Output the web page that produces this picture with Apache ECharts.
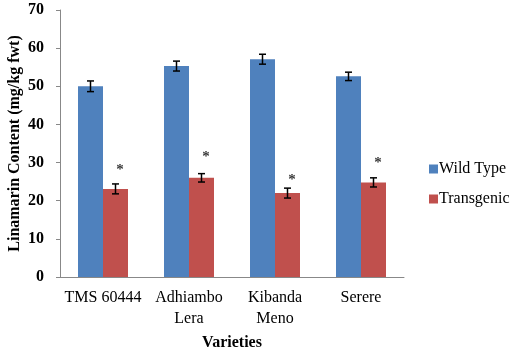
<!DOCTYPE html>
<html lang="en">
<head>
    <meta charset="UTF-8">
    <script src="https://cdn.jsdelivr.net/npm/echarts@6/dist/echarts.min.js"></script>
    <title>Linamarin Content</title>
    <style>
        html, body { margin: 0; padding: 0; background: #fff; }
        #chart { width: 521px; height: 351px; }
    </style>
</head>
<body>
<div id="chart"></div>
<script type="text/javascript">
    var varieties = ['TMS 60444', 'Adhiambo\nLera', 'Kibanda\nMeno', 'Serere'];
    var wildType = [50.0, 55.3, 57.1, 52.6];
    var wildErr = [1.4, 1.3, 1.3, 1.1];
    var transgenic = [23.1, 26.0, 22.0, 24.8];
    var transErr = [1.3, 1.1, 1.3, 1.2];
    var starValues = [28.8, 32.2, 26.2, 30.7];

    var serif = '"Liberation Serif", "Times New Roman", serif';
    var blue = '#4F81BD';
    var red = '#C0504D';
    var barW = 25;

    function errData(vals, errs) {
        var out = [];
        for (var i = 0; i < vals.length; i++) {
            out.push([i, vals[i] - errs[i], vals[i] + errs[i]]);
        }
        return out;
    }

    // draws an I-shaped error bar over the bar shifted by `shift` px
    function errRenderer(shift) {
        return function (params, api) {
            var lo = api.coord([api.value(0), api.value(1)]);
            var hi = api.coord([api.value(0), api.value(2)]);
            var x = lo[0] + shift;
            var style = { stroke: '#000', lineWidth: 1.5 };
            return {
                type: 'group',
                children: [
                    { type: 'line', shape: { x1: x, y1: lo[1], x2: x, y2: hi[1] }, style: style },
                    { type: 'line', shape: { x1: x - 3.5, y1: lo[1], x2: x + 3.5, y2: lo[1] }, style: style },
                    { type: 'line', shape: { x1: x - 3.5, y1: hi[1], x2: x + 3.5, y2: hi[1] }, style: style }
                ]
            };
        };
    }

    var starData = [];
    for (var i = 0; i < starValues.length; i++) starData.push([i, starValues[i]]);

    var myChart = echarts.init(document.getElementById('chart'));
    var option = {
        animation: false,
        grid: { left: 60, right: 117, top: 10, bottom: 74, outerBoundsMode: 'none', containLabel: false },
        legend: {
            data: ['Wild Type', 'Transgenic'],
            orient: 'vertical',
            left: 424,
            top: 156,
            itemWidth: 9,
            itemHeight: 9,
            itemGap: 14,
            icon: 'rect',
            textStyle: { fontFamily: serif, fontSize: 16, color: '#000', padding: [0, 0, 0, -4] }
        },
        xAxis: {
            type: 'category',
            data: varieties,
            name: 'Varieties',
            nameLocation: 'middle',
            nameGap: 58,
            nameMoveOverlap: false,
            nameTextStyle: { fontFamily: serif, fontSize: 16, fontWeight: 'bold', color: '#000' },
            axisLine: { lineStyle: { color: '#888', width: 1 } },
            axisTick: { lineStyle: { color: '#888' }, length: 5 },
            axisLabel: { fontFamily: serif, fontSize: 16, color: '#000', lineHeight: 21, margin: 10, interval: 0 }
        },
        yAxis: {
            type: 'value',
            min: 0,
            max: 70,
            interval: 10,
            name: 'Linamarin Content (mg/kg fwt)',
            nameLocation: 'middle',
            nameGap: 37,
            nameMoveOverlap: false,
            nameTextStyle: { fontFamily: serif, fontSize: 16, fontWeight: 'bold', color: '#000' },
            splitLine: { show: false },
            axisLine: { show: true, lineStyle: { color: '#888', width: 1 } },
            axisTick: { show: true, lineStyle: { color: '#888' }, length: 4 },
            axisLabel: { fontFamily: serif, fontSize: 16, fontWeight: 'bold', color: '#000', margin: 16 }
        },
        series: [
            {
                name: 'Wild Type',
                type: 'bar',
                data: wildType,
                barWidth: barW,
                barGap: '0%',
                itemStyle: { color: blue }
            },
            {
                name: 'Transgenic',
                type: 'bar',
                data: transgenic,
                barWidth: barW,
                itemStyle: { color: red }
            },
            {
                type: 'custom',
                renderItem: errRenderer(-barW / 2),
                data: errData(wildType, wildErr),
                z: 10
            },
            {
                type: 'custom',
                renderItem: errRenderer(barW / 2),
                data: errData(transgenic, transErr),
                z: 10
            },
            {
                type: 'scatter',
                data: starData,
                symbolSize: 1,
                itemStyle: { color: 'rgba(0,0,0,0)' },
                label: {
                    show: true,
                    formatter: '*',
                    position: 'inside',
                    offset: [17, 3],
                    fontFamily: serif,
                    fontSize: 15,
                    fontWeight: 'bold',
                    color: '#000'
                },
                z: 10
            }
        ]
    };
    myChart.setOption(option);
</script>
</body>
</html>
